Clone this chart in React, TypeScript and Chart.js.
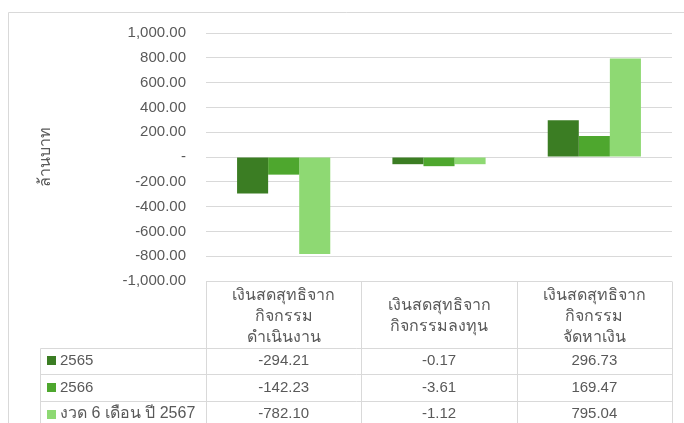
import React, { useEffect, useRef } from "react";
import { Chart, registerables } from "chart.js";

Chart.register(...registerables);

// ---- data ----
const categories: string[][] = [
  ["เงินสดสุทธิจาก", "กิจกรรม", "ดำเนินงาน"],
  ["เงินสดสุทธิจาก", "กิจกรรมลงทุน"],
  ["เงินสดสุทธิจาก", "กิจกรรม", "จัดหาเงิน"],
];
const seriesNames = ["2565", "2566", "งวด 6 เดือน ปี 2567"];
// bar heights as drawn in the picture
const values2565 = [-294.21, -58, 296.73];
const values2566 = [-142.23, -74, 169.47];
const values2567 = [-782.1, -58, 795.04];
// numbers printed in the data table
const table2565 = ["-294.21", "-0.17", "296.73"];
const table2566 = ["-142.23", "-3.61", "169.47"];
const table2567 = ["-782.10", "-1.12", "795.04"];
const yAxisTitle = "ล้านบาท";
const yMin = -1000;
const yMax = 1000;
const yStep = 200;

const seriesColors = ["#3B7D23", "#4EA72E", "#8ED973"];
const textColor = "#595959";
const lineColor = "#d9d9d9";
const fontFamily = "'Liberation Sans', Arial, sans-serif";
const thaiRe = /[\u0E00-\u0E7F]/;

const fmt = (v: number) =>
  v === 0
    ? "-"
    : v.toLocaleString("en-US", { minimumFractionDigits: 2, maximumFractionDigits: 2 });

const framePlugin = {
  id: "frame",
  beforeDraw(chart: any) {
    const ctx = chart.ctx;
    ctx.save();
    ctx.strokeStyle = lineColor;
    ctx.lineWidth = 1;
    ctx.beginPath();
    ctx.moveTo(8.5, chart.height);
    ctx.lineTo(8.5, 12.5);
    ctx.lineTo(chart.width, 12.5);
    ctx.stroke();
    ctx.restore();
  },
};

const tablePlugin = {
  id: "dataTable",
  afterDraw(chart: any) {
    const ctx = chart.ctx;
    const area = chart.chartArea;
    const n = categories.length;
    const colW = (area.right - area.left) / n;
    const top = area.bottom;
    const headerBottom = top + 66.5;
    const rowH = 26.6;
    const legendLeft = 40.5;
    const bottom = chart.height + 5;
    ctx.save();
    ctx.strokeStyle = lineColor;
    ctx.lineWidth = 1;
    ctx.beginPath();
    const r = (v: number) => Math.round(v) + 0.5;
    ctx.moveTo(area.left, r(top));
    ctx.lineTo(area.right, r(top));
    for (let k = 0; k <= n; k++) {
      const x = r(area.left + k * colW);
      ctx.moveTo(x, r(top));
      ctx.lineTo(x, bottom);
    }
    ctx.moveTo(legendLeft, r(headerBottom));
    ctx.lineTo(legendLeft, bottom);
    for (let i = 0; i < seriesNames.length + 1; i++) {
      const y = r(headerBottom + i * rowH);
      ctx.moveTo(legendLeft, y);
      ctx.lineTo(area.right, y);
    }
    ctx.stroke();

    ctx.fillStyle = textColor;
    ctx.textBaseline = "middle";
    ctx.textAlign = "center";
    ctx.font = `16px ${fontFamily}`;
    const headerMid = (top + headerBottom) / 2 + 2;
    const lh = 21;
    categories.forEach((lines, i) => {
      const cx = area.left + (i + 0.5) * colW;
      const start = headerMid - ((lines.length - 1) * lh) / 2;
      lines.forEach((t, j) => ctx.fillText(t, cx, start + j * lh));
    });
    const tables = [table2565, table2566, table2567];
    tables.forEach((row, si) => {
      const cy = headerBottom + (si + 0.5) * rowH;
      ctx.textAlign = "center";
      ctx.fillStyle = textColor;
      ctx.font = `15px ${fontFamily}`;
      row.forEach((t, i) => {
        const cx = area.left + (i + 0.5) * colW;
        ctx.fillText(t, cx, cy);
      });
      ctx.fillStyle = seriesColors[si];
      ctx.fillRect(47, Math.round(cy - 4.5), 9, 9);
      ctx.fillStyle = textColor;
      ctx.textAlign = "left";
      const name = seriesNames[si];
      ctx.font = `${thaiRe.test(name) ? 16 : 15}px ${fontFamily}`;
      ctx.fillText(name, 60, cy);
    });
    ctx.restore();
  },
};

export default function App() {
  const ref = useRef<HTMLCanvasElement | null>(null);
  useEffect(() => {
    if (!ref.current) return;
    const chart = new Chart(ref.current, {
      type: "bar",
      data: {
        labels: categories.map((c) => c.join(" ")),
        datasets: [values2565, values2566, values2567].map((d, i) => ({
          label: seriesNames[i],
          data: d,
          backgroundColor: seriesColors[i],
          borderWidth: 0,
          categoryPercentage: 0.6,
          barPercentage: 1.0,
        })),
      },
      options: {
        animation: false,
        responsive: false,
        devicePixelRatio: 1,
        layout: { padding: { top: 33, right: 12, bottom: 142, left: 0 } },
        plugins: {
          legend: { display: false },
          tooltip: { enabled: false },
        },
        scales: {
          x: {
            display: false,
          },
          y: {
            min: yMin,
            max: yMax,
            ticks: {
              stepSize: yStep,
              padding: 20,
              color: textColor,
              font: { family: fontFamily, size: 15 },
              callback: (v: any) => fmt(Number(v)),
            },
            grid: { color: lineColor, lineWidth: 1, drawTicks: false },
            border: { display: false },
            title: {
              display: true,
              text: yAxisTitle,
              color: textColor,
              font: { family: fontFamily, size: 16 },
              padding: { top: 36, bottom: 0 },
            },
            afterFit: (scale: any) => {
              scale.width = 206;
            },
          },
        },
      },
      plugins: [framePlugin, tablePlugin],
    } as any);
    return () => chart.destroy();
  }, []);
  return (
    <div style={{ position: "fixed", left: 0, top: 0, width: 684, height: 423, background: "#fff" }}>
      <canvas ref={ref} width={684} height={423} style={{ display: "block" }} />
    </div>
  );
}
